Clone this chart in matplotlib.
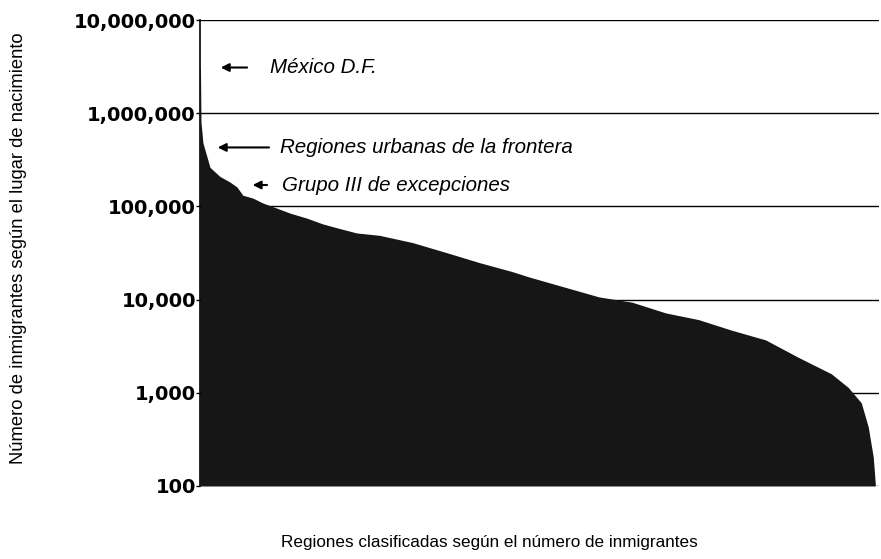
import numpy as np
import matplotlib
matplotlib.use('Agg')
import matplotlib.pyplot as plt

# rank position of the region (ordered by number of immigrants) and count
rank = [0, 0.5, 1, 3, 10, 20, 30, 37, 43, 53, 63, 77, 90, 107, 123, 140, 157,
        180, 213, 247, 280, 313, 330, 400, 433, 467, 500, 533, 567, 600, 633,
        650, 663, 670, 675, 677]
immigrants = [3000000, 3000000, 800000, 480000, 263000, 210000, 183000, 162000,
              132000, 123000, 109000, 96000, 85000, 75000, 65000, 58000, 52000,
              49000, 41000, 32000, 25000, 20000, 17500, 10700, 9400, 7200, 6100,
              4700, 3700, 2400, 1600, 1140, 780, 430, 205, 107]

ytick_vals = [100, 1000, 10000, 100000, 1000000, 10000000]
ytick_labels = ['100', '1,000', '10,000', '100,000', '1,000,000', '10,000,000']

notes = ['México D.F.', 'Regiones urbanas de la frontera', 'Grupo III de excepciones']
note_y = [3100000, 430000, 170000]

narrow = ['Liberation Sans Narrow', 'Liberation Sans', 'DejaVu Sans']

fig = plt.figure(figsize=(8.81, 5.59), dpi=100)
ax = fig.add_axes([0.227, 0.1306, 0.771, 0.8334])

ax.fill_between(rank, immigrants, 100, color='#161616', lw=0)

ax.set_yscale('log')
ax.set_ylim(100, 10000000)
ax.set_xlim(0, 681)
ax.set_yticks(ytick_vals)
ax.set_yticklabels(ytick_labels)
ax.minorticks_off()
ax.set_xticks([])
for t in ax.get_yticklabels():
    t.set_fontsize(14)
    t.set_fontweight('bold')
ax.tick_params(axis='y', length=3, width=1, pad=0)
for v in ytick_vals:
    ax.axhline(v, color='black', lw=1, zorder=0)

for s in ['top', 'right', 'bottom']:
    ax.spines[s].set_visible(False)
ax.spines['left'].set_linewidth(1.2)

# annotations with arrows
arrows = [(18, 50, 70), (15, 72, 80), (50, 70, 82)]
for (x0, x1, tx), txt, y in zip(arrows, notes, note_y):
    ax.annotate('', xy=(x0, y), xytext=(x1, y),
                arrowprops=dict(arrowstyle='-|>', color='black', lw=1.5,
                                mutation_scale=12))
    ax.text(tx, y, txt, family=narrow, style='italic', fontsize=14.8,
            va='center', ha='left')

fig.text(0.556, 0.029, 'Regiones clasificadas según el número de inmigrantes',
         family=narrow, fontsize=12.3, ha='center', va='center')
fig.text(0.021, 0.556, 'Número de inmigrantes según el lugar de nacimiento',
         family=narrow, fontsize=13.2, ha='center', va='center', rotation=90)

fig.savefig('out.png', dpi=100)
